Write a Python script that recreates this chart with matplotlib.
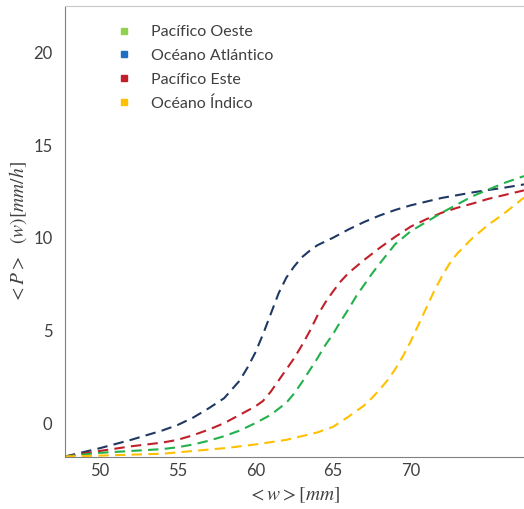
import matplotlib.pyplot as plt
from matplotlib.lines import Line2D

plt.rcParams['font.family'] = ['Lato', 'DejaVu Sans']
plt.rcParams['mathtext.fontset'] = 'stix'

# values
x_atl = [47.75, 50, 52, 54, 55, 56, 57, 58, 59, 59.5, 60, 60.5, 61, 61.5, 62, 62.5, 63, 63.5, 64, 65,
         66, 67, 68, 69, 70, 71, 72, 73, 74, 75, 76, 77.3]
y_atl = [-1.8, -1.35, -0.9, -0.4, -0.1, 0.3, 0.8, 1.35, 2.3, 3.0, 3.8, 4.8, 5.9, 7.0, 7.85, 8.45, 8.95, 9.3, 9.6, 10.0,
         10.45, 10.85, 11.2, 11.5, 11.75, 11.95, 12.15, 12.3, 12.45, 12.58, 12.7, 12.88]

x_este = [47.75, 50, 52, 54, 55, 56, 57, 58, 59, 60, 60.5, 61, 61.5, 62, 62.5, 63, 63.5, 64, 64.5, 65,
          65.5, 66, 66.5, 67, 68, 69, 70, 71, 72, 73, 74, 75, 76, 77.3]
y_este = [-1.8, -1.5, -1.25, -1.05, -0.9, -0.65, -0.35, 0.0, 0.45, 0.9, 1.2, 1.7, 2.3, 2.9, 3.5, 4.2, 4.95, 5.8, 6.5, 7.1,
          7.65, 8.1, 8.45, 8.8, 9.45, 10.05, 10.6, 11.0, 11.35, 11.62, 11.85, 12.1, 12.3, 12.56]

x_oeste = [47.75, 50, 52, 54, 55, 56, 57, 58, 59, 60, 61, 62, 62.5, 63, 63.5, 64, 64.5, 65, 65.5, 66,
           66.5, 67, 67.5, 68, 69, 70, 71, 72, 73, 74, 75, 76, 77.3]
y_oeste = [-1.8, -1.6, -1.5, -1.4, -1.3, -1.15, -0.95, -0.7, -0.4, 0.0, 0.45, 1.1, 1.6, 2.2, 2.85, 3.5, 4.2, 4.8, 5.5, 6.15,
           6.85, 7.45, 8.05, 8.6, 9.65, 10.35, 10.85, 11.35, 11.8, 12.25, 12.6, 12.95, 13.33]

x_indico = [47.75, 50, 52, 54, 56, 58, 60, 62, 63, 64, 65, 66, 67, 67.5, 68, 68.5, 69, 69.5, 70, 70.5,
            71, 71.5, 72, 72.5, 73, 74, 75, 76, 77.3]
y_indico = [-1.8, -1.75, -1.7, -1.65, -1.5, -1.35, -1.15, -0.9, -0.7, -0.5, -0.2, 0.35, 0.95, 1.35, 1.8, 2.3, 2.9, 3.6, 4.4, 5.3,
            6.2, 7.1, 7.9, 8.6, 9.15, 10.0, 10.7, 11.3, 12.17]

labels = ['Pacífico Oeste', 'Océano Atlántico', 'Pacífico Este', 'Océano Índico']
legend_colors = ['#92d050', '#1f70c1', '#c0202a', '#ffc000']

fig = plt.figure(figsize=(5.24, 5.09), dpi=100)
ax = fig.add_axes([0.124, 0.102, 0.876, 0.886])

dash = (5, 3)
ax.plot(x_atl, y_atl, color='#1f3864', lw=1.5, dashes=dash)
ax.plot(x_este, y_este, color='#c0202a', lw=1.5, dashes=dash)
ax.plot(x_oeste, y_oeste, color='#22b14c', lw=1.5, dashes=dash)
ax.plot(x_indico, y_indico, color='#ffc000', lw=1.5, dashes=dash)

ax.set_xlim(47.75, 77.3)
ax.set_ylim(-1.83, 22.5)
ax.set_xticks([50, 55, 60, 65, 70])
ax.set_yticks([0, 5, 10, 15, 20])
ax.tick_params(length=0, labelsize=12, colors='#404040')
ax.tick_params(axis='x', pad=4)
ax.tick_params(axis='y', pad=9)

for s in ['left', 'bottom']:
    ax.spines[s].set_color('#808080')
ax.spines['top'].set_color('#c8c8c8')
ax.spines['right'].set_visible(False)

ax.set_xlabel(r'$<w>[mm]$', fontsize=14, color='#404040', labelpad=5)
ax.set_ylabel(r'$<P>\ \ (w)[mm/h]$', fontsize=14, color='#404040', labelpad=3)

handles = [Line2D([], [], ls='none', marker='s', markersize=4.5, color=c) for c in legend_colors]
ax.legend(handles, labels, loc='upper left', bbox_to_anchor=(0.063, 0.99), frameon=False,
          fontsize=11.5, labelcolor='#404040', handletextpad=0.7, labelspacing=0.6)

fig.savefig('out.png', dpi=100)
